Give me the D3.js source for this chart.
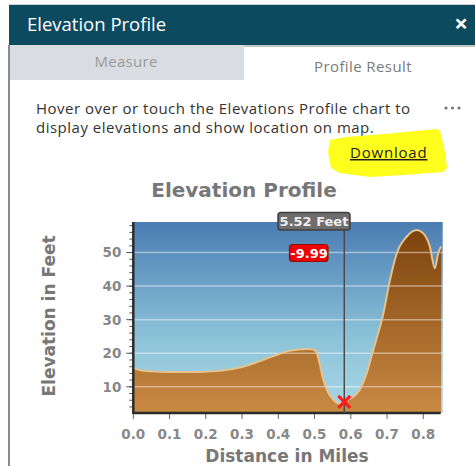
<!DOCTYPE html>
<html>
<head>
<meta charset="utf-8">
<script src="https://cdn.jsdelivr.net/npm/d3@7"></script>
<style>
  body { margin: 0; background: #fff; }
  svg { display: block; }
</style>
</head>
<body>
<svg width="475" height="466"></svg>
<script>
// profile samples
var distances = [0, 0.02, 0.05, 0.1, 0.15, 0.2, 0.25, 0.3, 0.345, 0.39, 0.435, 0.48, 0.497, 0.505, 0.515, 0.522, 0.534, 0.552, 0.568, 0.582, 0.597, 0.625, 0.644, 0.662, 0.69, 0.708, 0.727, 0.754, 0.782, 0.8, 0.818, 0.832, 0.841, 0.849]
var elevations = [15.6, 14.9, 14.6, 14.4, 14.4, 14.5, 14.9, 15.9, 17.5, 19.3, 20.8, 21.3, 21.1, 20.3, 16.5, 13, 9.1, 6.1, 5.0, 5.5, 6.4, 9.1, 14.1, 21, 31.9, 41.8, 49.8, 54.7, 56.7, 55.7, 51.8, 45.3, 49.8, 51.8]

var xTicks = [0, 0.1, 0.2, 0.3, 0.4, 0.5, 0.6, 0.7, 0.8]
var yTicks = [10, 20, 30, 40, 50]
var yMinorTicks = d3.range(4, 60, 2)

var cursorDist = 0.582
var cursorElev = 5.52
var cursorLabel = '5.52 Feet'
var deltaLabel = '-9.99'

var svg = d3.select('svg')
var ui = '"Open Sans", Lato, sans-serif'
var chartFont = '"DejaVu Sans", Verdana, sans-serif'

// ---- panel chrome ----
svg.append('rect').attr('x', 9).attr('y', 4).attr('width', 466).attr('height', 1).attr('fill', '#cfcfcf')
svg.append('rect').attr('x', 9).attr('y', 5).attr('width', 466).attr('height', 40).attr('fill', '#0c4a5f')
svg.append('text').attr('x', 27).attr('y', 31).text('Elevation Profile')
    .attr('font-family', ui).attr('font-size', 18.5).attr('fill', '#fff')
svg.append('text').attr('x', 461).attr('y', 32).attr('text-anchor', 'middle').text('×')
    .attr('font-family', ui).attr('font-size', 24).attr('font-weight', 'bold').attr('fill', '#fff')

svg.append('rect').attr('x', 9).attr('y', 45).attr('width', 235).attr('height', 35).attr('fill', '#d9dde1')
svg.append('rect').attr('x', 244).attr('y', 45).attr('width', 231).attr('height', 2).attr('fill', '#c4c4c4')
svg.append('text').attr('x', 126).attr('y', 67).attr('text-anchor', 'middle').text('Measure')
    .attr('font-family', ui).attr('font-size', 15).attr('letter-spacing', 0.3).attr('fill', '#9a9a9a')
svg.append('text').attr('x', 363).attr('y', 72).attr('text-anchor', 'middle').text('Profile Result')
    .attr('font-family', ui).attr('font-size', 15).attr('letter-spacing', 0.4).attr('fill', '#7a7a7a')

svg.append('rect').attr('x', 8).attr('y', 45).attr('width', 2).attr('height', 421).attr('fill', '#8a8a8a')

svg.append('text').attr('x', 36).attr('y', 114).text('Hover over or touch the Elevations Profile chart to')
    .attr('font-family', ui).attr('font-size', 15).attr('letter-spacing', 0.5).attr('fill', '#333')
svg.append('text').attr('x', 36).attr('y', 133).text('display elevations and show location on map.')
    .attr('font-family', ui).attr('font-size', 15).attr('letter-spacing', 0.5).attr('fill', '#333')
svg.append('g').selectAll('circle').data([446, 452.5, 459]).enter().append('circle')
    .attr('cx', d => d).attr('cy', 108).attr('r', 1.6).attr('fill', '#777')

// yellow marker scribble
svg.append('path')
    .attr('d', 'M330,140 L345,137 L385,134 L425,130 L438,129 L441,134 L445,152 L447,168 L443,172 L403,175 L370,177 L340,173 L331,168 L328,152 Z')
    .attr('fill', '#ffff1e')
svg.append('text').attr('x', 350).attr('y', 158).text('Download')
    .attr('font-family', ui).attr('font-size', 15).attr('letter-spacing', 0.8).attr('fill', '#222')
    .attr('text-decoration', 'underline')

// ---- chart ----
var x = d3.scaleLinear().domain([0, 0.848]).range([133.3, 440.7])
var y = d3.scaleLinear().domain([2.2, 59.1]).range([413, 222])

var defs = svg.append('defs')
var sky = defs.append('linearGradient').attr('id', 'sky')
    .attr('gradientUnits', 'userSpaceOnUse').attr('x1', 0).attr('y1', 222).attr('x2', 0).attr('y2', 413)
sky.append('stop').attr('offset', 0).attr('stop-color', '#4a7cb2')
sky.append('stop').attr('offset', 0.6).attr('stop-color', '#8cc2d8')
sky.append('stop').attr('offset', 1).attr('stop-color', '#a9d8e6')
var ground = defs.append('linearGradient').attr('id', 'ground')
    .attr('gradientUnits', 'userSpaceOnUse').attr('x1', 0).attr('y1', 228).attr('x2', 0).attr('y2', 413)
ground.append('stop').attr('offset', 0).attr('stop-color', '#7c420b')
ground.append('stop').attr('offset', 1).attr('stop-color', '#c98a44')

svg.append('text').attr('x', 244).attr('y', 197).attr('text-anchor', 'middle').text('Elevation Profile')
    .attr('font-family', chartFont).attr('font-size', 20).attr('font-weight', 'bold').attr('fill', '#777')

svg.append('rect')
    .attr('x', x(0)).attr('y', y(59.1))
    .attr('width', x(0.848) - x(0) + 2).attr('height', y(2.2) - y(59.1))
    .attr('fill', 'url(#sky)')

var pts = distances.map(function (d, i) { return [d, elevations[i]] })

svg.append('path')
    .datum(pts)
    .attr('fill', 'url(#ground)')
    .attr('d', d3.area().curve(d3.curveMonotoneX)
      .x(function (d) { return x(d[0]) })
      .y0(y(2.2))
      .y1(function (d) { return y(d[1]) }))

// grid lines
svg.append('g').selectAll('line').data(yTicks).enter().append('line')
    .attr('x1', x(0)).attr('x2', x(0.848) + 2)
    .attr('y1', d => y(d)).attr('y2', d => y(d))
    .attr('stroke', 'rgba(255,255,255,0.45)').attr('stroke-width', 1.5)

svg.append('path')
    .datum(pts)
    .attr('fill', 'none')
    .attr('stroke', '#e6c28e').attr('stroke-width', 2)
    .attr('d', d3.line().curve(d3.curveMonotoneX)
      .x(function (d) { return x(d[0]) })
      .y(function (d) { return y(d[1]) }))

// axes
var yAxis = svg.append('g').attr('transform', 'translate(' + x(0) + ',0)')
yAxis.selectAll('line.minor').data(yMinorTicks).enter().append('line')
    .attr('x1', -4).attr('x2', 0).attr('y1', d => y(d)).attr('y2', d => y(d))
    .attr('stroke', '#555').attr('stroke-width', 1)
yAxis.selectAll('line.major').data(yTicks).enter().append('line')
    .attr('x1', -7).attr('x2', 0).attr('y1', d => y(d)).attr('y2', d => y(d))
    .attr('stroke', '#555').attr('stroke-width', 1)
yAxis.selectAll('text').data(yTicks).enter().append('text')
    .attr('x', -12).attr('y', d => y(d)).attr('dy', '0.36em')
    .attr('text-anchor', 'end').text(d => d)
    .attr('font-family', chartFont).attr('font-size', 13.5).attr('font-weight', 'bold').attr('fill', '#888')

var xAxis = svg.append('g').attr('transform', 'translate(0,' + y(2.2) + ')')
xAxis.selectAll('line').data(xTicks).enter().append('line')
    .attr('x1', d => x(d)).attr('x2', d => x(d)).attr('y1', 0).attr('y2', 6)
    .attr('stroke', '#666').attr('stroke-width', 1)
xAxis.selectAll('text').data(xTicks).enter().append('text')
    .attr('x', d => x(d)).attr('y', 26).attr('text-anchor', 'middle').text(d3.format('.1f'))
    .attr('font-family', chartFont).attr('font-size', 13.5).attr('font-weight', 'bold').attr('fill', '#888')

svg.append('line').attr('x1', x(0)).attr('x2', x(0)).attr('y1', y(59.1)).attr('y2', y(2.2) + 1)
    .attr('stroke', '#2b2b2b').attr('stroke-width', 2.5)
svg.append('line').attr('x1', x(0)).attr('x2', x(0.848)).attr('y1', y(2.2)).attr('y2', y(2.2))
    .attr('stroke', '#2b2b2b').attr('stroke-width', 2.5)

svg.append('text').attr('x', 287).attr('y', 462).attr('text-anchor', 'middle').text('Distance in Miles')
    .attr('font-family', chartFont).attr('font-size', 17).attr('font-weight', 'bold').attr('fill', '#777')
svg.append('text').attr('transform', 'translate(55,316) rotate(-90)').attr('text-anchor', 'middle')
    .text('Elevation in Feet')
    .attr('font-family', chartFont).attr('font-size', 17).attr('font-weight', 'bold').attr('fill', '#777')

// cursor
var cx = x(cursorDist)
svg.append('line').attr('x1', cx).attr('x2', cx).attr('y1', 229).attr('y2', y(2.2))
    .attr('stroke', '#4a4a4a').attr('stroke-width', 1.5)

svg.append('rect').attr('x', 278).attr('y', 212.5).attr('width', 72).attr('height', 17.5).attr('rx', 3)
    .attr('fill', '#6d6d6d').attr('stroke', '#3f3f3f').attr('stroke-width', 1.5)
svg.append('text').attr('x', 314).attr('y', 226).attr('text-anchor', 'middle').text(cursorLabel)
    .attr('font-family', chartFont).attr('font-size', 13).attr('font-weight', 'bold').attr('fill', '#eee')

svg.append('rect').attr('x', 289.5).attr('y', 244.5).attr('width', 38.5).attr('height', 17).attr('rx', 3)
    .attr('fill', '#f00000').attr('stroke', '#8a1010').attr('stroke-width', 1.2)
svg.append('text').attr('x', 309).attr('y', 258).attr('text-anchor', 'middle').text(deltaLabel)
    .attr('font-family', chartFont).attr('font-size', 13).attr('font-weight', 'bold').attr('fill', '#fff')

var cy = y(cursorElev)
svg.append('path')
    .attr('d', 'M' + (cx - 6) + ',' + (cy - 6) + 'L' + (cx + 6) + ',' + (cy + 6) +
      'M' + (cx + 6) + ',' + (cy - 6) + 'L' + (cx - 6) + ',' + (cy + 6))
    .attr('stroke', '#ff1a1a').attr('stroke-width', 3)
</script>
</body>
</html>
